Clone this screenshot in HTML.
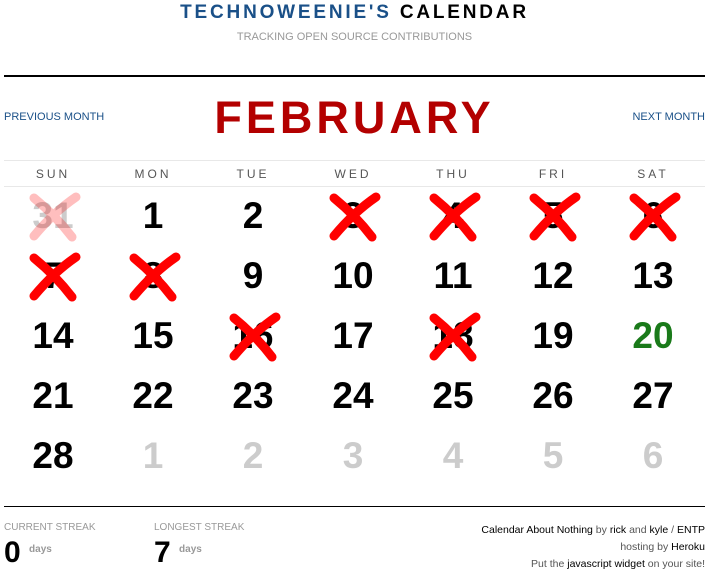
<!DOCTYPE html>
<html><head><meta charset="utf-8"><style>
body{margin:0;width:709px;height:576px;background:#fff;position:relative;overflow:hidden;font-family:"Liberation Sans",sans-serif}
.a{position:absolute}
.num{position:absolute;width:100px;text-align:center;font-weight:bold;font-size:37px;line-height:40px;color:#000}
.dn{position:absolute;width:100px;text-align:center;font-size:12px;letter-spacing:3px;color:#555;top:167px}
.x{position:absolute;width:54px;height:50px}
</style></head><body>
<div class="a" style="left:0;width:709px;top:2px;text-align:center;font-size:19px;letter-spacing:2.8px;font-weight:bold"><span style="color:#1a5088">TECHNOWEENIE'S</span> <span style="color:#000">CALENDAR</span></div>
<div class="a" style="left:0;width:709px;top:31px;text-align:center;font-size:11px;color:#999">TRACKING OPEN SOURCE CONTRIBUTIONS</div>
<div class="a" style="left:4px;width:701px;top:75px;height:2px;background:#000"></div>
<div class="a" style="left:4px;top:111px;font-size:11px;color:#1a5088">PREVIOUS MONTH</div>
<div class="a" style="right:4px;top:111px;font-size:11px;color:#1a5088">NEXT MONTH</div>
<div class="a" style="left:0;width:709px;top:92px;text-align:center;font-size:45px;line-height:52px;letter-spacing:4px;font-weight:bold;color:#b30000">FEBRUARY</div>
<div class="a" style="left:4px;width:701px;top:160px;height:1px;background:#e8e8e8"></div>
<div class="a" style="left:4px;width:701px;top:186px;height:1px;background:#e8e8e8"></div>
<div id="cal"></div>
<div class="a" style="left:4px;width:701px;top:506px;height:1px;background:#000"></div>
<div class="a" style="left:4px;top:522px;font-size:10px;color:#999">CURRENT STREAK</div>
<div class="a" style="left:4px;top:536px;font-size:30px;font-weight:bold">0 <span style="font-size:10px;color:#999;vertical-align:10px">days</span></div>
<div class="a" style="left:154px;top:522px;font-size:10px;color:#999">LONGEST STREAK</div>
<div class="a" style="left:154px;top:536px;font-size:30px;font-weight:bold">7 <span style="font-size:10px;color:#999;vertical-align:10px">days</span></div>
<div class="a" style="right:4px;top:522px;font-size:10.5px;line-height:17px;text-align:right;color:#555">
<span style="color:#000">Calendar About Nothing</span> by <span style="color:#000">rick</span> and <span style="color:#000">kyle</span> / <span style="color:#000">ENTP</span><br>hosting by <span style="color:#000">Heroku</span><br>Put the <span style="color:#000">javascript widget</span> on your site!</div>
<script>
const dayNames=["SUN","MON","TUE","WED","THU","FRI","SAT"];
const days=[31,1,2,3,4,5,6,7,8,9,10,11,12,13,14,15,16,17,18,19,20,21,22,23,24,25,26,27,28,1,2,3,4,5,6];
const crossed=[1,0,0,1,1,1,1,1,1,0,0,0,0,0,0,0,1,0,1,0,0,0,0,0,0,0,0,0,0,0,0,0,0,0,0];
const cal=document.getElementById('cal');
dayNames.forEach((d,i)=>{const e=document.createElement('div');e.className='dn';e.style.left=(3+i*100)+'px';e.textContent=d;


cal.appendChild(e);});
days.forEach((d,i)=>{const c=i%7,r=Math.floor(i/7);const cx=53+c*100,cy=216+r*60;
const e=document.createElement('div');e.className='num';e.style.left=(cx-50)+'px';e.style.top=(cy-20)+'px';e.textContent=d;
const other=(i===0||i>=29);if(other)e.style.color='#ccc';if(i===20)e.style.color='#1a7a1a';


cal.appendChild(e);
if(crossed[i]){const s=document.createElementNS('http://www.w3.org/2000/svg','svg');s.setAttribute('class','x');s.style.left=(cx-25)+'px';s.style.top=(cy-24)+'px';
s.setAttribute('viewBox','0 0 54 50');s.innerHTML='<path d="M6 6 Q28 24 44 45" stroke="#f00" stroke-width="9" fill="none" stroke-linecap="round"/><path d="M48 5 Q26 20 6 44" stroke="#f00" stroke-width="9" fill="none" stroke-linecap="round"/>';
if(i===0)s.style.opacity='0.25';


cal.appendChild(s);}
});
</script>
</body></html>
